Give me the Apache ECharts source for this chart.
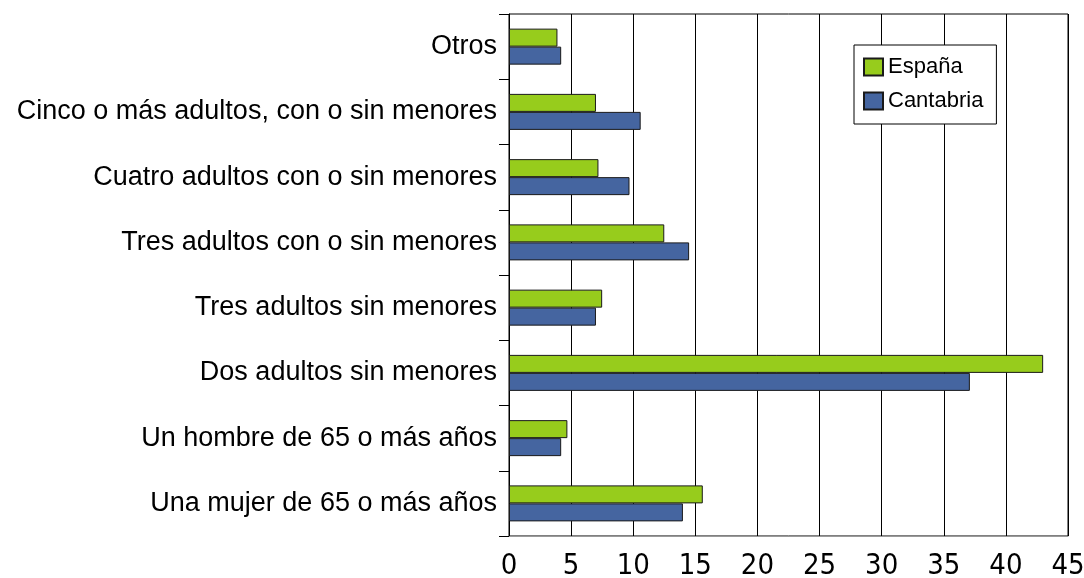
<!DOCTYPE html>
<html>
<head>
<meta charset="utf-8">
<script src="https://cdn.jsdelivr.net/npm/echarts@6/dist/echarts.min.js"></script>
<style>
  html, body { margin: 0; padding: 0; background: #fff; }
  #chart { width: 1084px; height: 578px; }
</style>
</head>
<body>
<div id="chart"></div>
<script>
// categories, top to bottom
var categorias = [
    'Otros',
    'Cinco o más adultos, con o sin menores',
    'Cuatro adultos con o sin menores',
    'Tres adultos con o sin menores',
    'Tres adultos sin menores',
    'Dos adultos sin menores',
    'Un hombre de 65 o más años',
    'Una mujer de 65 o más años'
];
var espana = [3.9, 7.0, 7.2, 12.5, 7.5, 43.0, 4.7, 15.6];
var cantabria = [4.2, 10.6, 9.7, 14.5, 7.0, 37.1, 4.2, 14.0];
var ticksX = [0, 5, 10, 15, 20, 25, 30, 35, 40, 45];

var fuente = '"Liberation Sans", Arial, sans-serif';
var fuenteNum = '"DejaVu Sans Condensed", "DejaVu Sans", sans-serif';
var myChart = echarts.init(document.getElementById('chart'));

var opt = {
    animation: false,
    textStyle: { fontFamily: fuente },
    grid: {
        left: 509,
        right: 16,
        top: 14,
        bottom: 42,
        outerBoundsMode: 'none',
        containLabel: false,
        show: true,
        borderColor: '#000',
        borderWidth: 1
    },
    legend: {
        orient: 'vertical',
        left: 854,
        top: 45,
        padding: [11, 13, 12, 9],
        itemGap: 12,
        itemWidth: 19,
        itemHeight: 17,
        backgroundColor: '#fff',
        borderColor: '#000',
        borderWidth: 1,
        borderRadius: 0,
        icon: 'rect',
        textStyle: { fontSize: 22, color: '#000', fontFamily: fuente },
        data: ['España', 'Cantabria']
    },
    xAxis: {
        type: 'value',
        min: 0,
        max: 45,
        interval: 5,
        axisLine: { show: true, lineStyle: { color: '#999' } },
        axisTick: { show: false },
        splitLine: { show: true, lineStyle: { color: '#000', width: 1 } },
        axisLabel: {
            fontSize: 29,
            fontFamily: fuenteNum,
            color: '#000',
            margin: 16,
            formatter: function (v) { return ticksX.indexOf(v) >= 0 ? String(v) : ''; }
        }
    },
    yAxis: {
        type: 'category',
        inverse: true,
        data: categorias,
        axisLine: { show: true, lineStyle: { color: '#000', width: 1 } },
        axisTick: { show: true, length: 10, lineStyle: { color: '#000' } },
        axisLabel: { fontSize: 27, color: '#000', margin: 12, fontFamily: fuente }
    },
    series: [{
        name: 'España',
        type: 'bar',
        data: espana,
        barWidth: 18,
        barGap: '0%',
        itemStyle: { color: '#97cc1c', borderColor: '#1a1a1a', borderWidth: 1 }
    }, {
        name: 'Cantabria',
        type: 'bar',
        data: cantabria,
        barWidth: 18,
        barGap: '0%',
        itemStyle: { color: '#4565a0', borderColor: '#1a1a1a', borderWidth: 1 }
    }]
};
myChart.setOption(opt);
</script>
</body>
</html>
